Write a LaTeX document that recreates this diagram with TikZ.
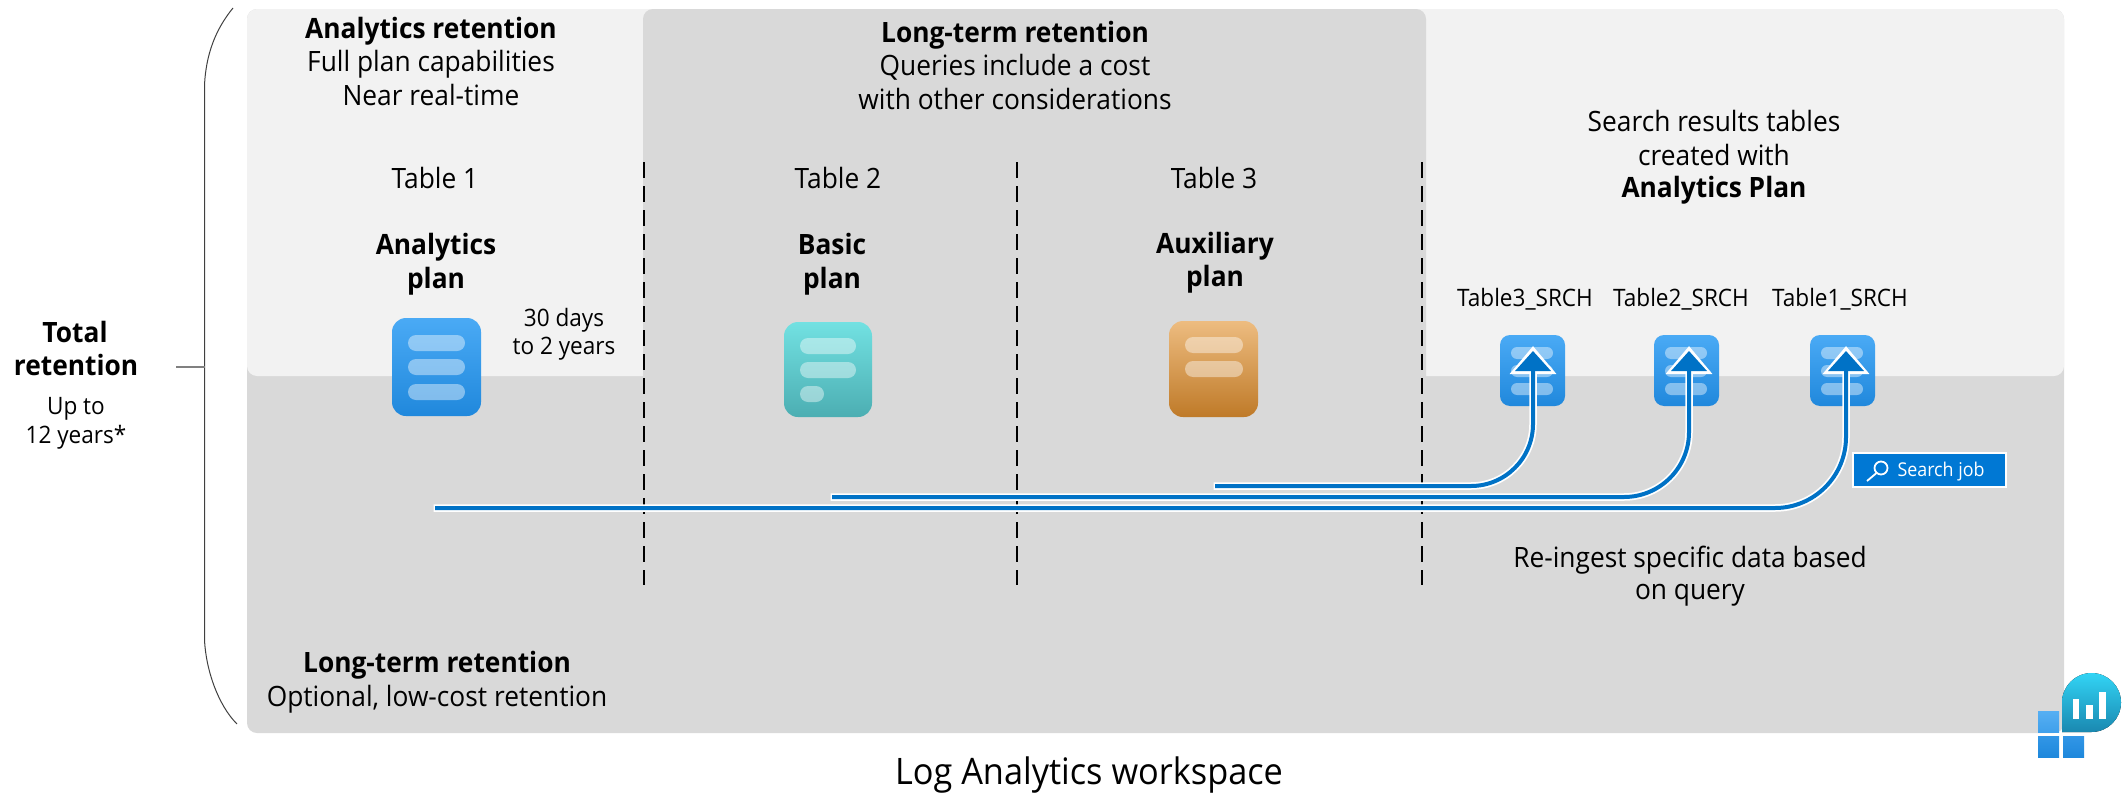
\documentclass[tikz,border=0pt]{standalone}
\usepackage{fontspec}
\setmainfont[FakeStretch=0.94]{Open Sans}
\usetikzlibrary{arrows.meta,calc}
\definecolor{lightp}{HTML}{F2F2F2}
\definecolor{darkp}{HTML}{D9D9D9}
\definecolor{flow}{HTML}{0072C6}
\definecolor{job}{HTML}{0078D4}
\tikzset{
  x=1pt,y=-1pt,
  lbl/.style={anchor=base,inner sep=0pt,outer sep=0pt,text=black,font=\fontsize{28}{32}\selectfont},
  lblb/.style={lbl,font=\fontsize{28}{32}\selectfont\bfseries},
  small/.style={lbl,font=\fontsize{24}{28}\selectfont},
  icon/.style={draw=none,inner sep=0pt,rounded corners=#1},
  bluei/.style={top color={rgb,255:red,74;green,170;blue,245},bottom color={rgb,255:red,32;green,136;blue,220}},
  teali/.style={top color={rgb,255:red,114;green,225;blue,226},bottom color={rgb,255:red,76;green,174;blue,178}},
  orangei/.style={top color={rgb,255:red,237;green,188;blue,128},bottom color={rgb,255:red,191;green,122;blue,40}},
  barf/.style={fill=white,fill opacity=.42,draw=none},
  divider/.style={black,line width=2pt,dash pattern=on 16pt off 8pt},
  flowwhite/.style={white,line width=7.5pt,rounded corners=#1,shorten <=-1.5pt,-{Triangle[length=28pt,width=45pt]}},
  flowblue/.style={flow,line width=4pt,rounded corners=#1,-{Triangle[length=20pt,width=35pt]}},
}
\begin{document}
\begin{tikzpicture}
\useasboundingbox (0,0) rectangle (2122,811);
% panels
\fill[darkp,rounded corners=10pt] (247,9) rectangle (2064,733);
\fill[lightp,rounded corners=10pt] (247,9) rectangle (2064,376);
\fill[darkp,rounded corners=10pt] (643,9) rectangle (1426,400);
% brace
\coordinate (bt) at (233,8);
\coordinate (bb) at (237,724);
\coordinate (bm) at (204.5,367);
\coordinate (tk) at (176,367);
\draw[black!75,line width=1pt] (bt) .. controls (215,30) and (206,55) .. (204.5,85) -- (204.5,640) .. controls (206,670) and (218,705) .. (bb);
\draw[black!50,line width=1.5pt] (tk) -- (bm);
% dividers
\coordinate (d1a) at (644,162); \coordinate (d1b) at (644,585);
\coordinate (d2a) at (1017,162); \coordinate (d2b) at (1017,585);
\coordinate (d3a) at (1422,162); \coordinate (d3b) at (1422,585);
\draw[divider] (d1a) -- (d1b);
\draw[divider] (d2a) -- (d2b);
\draw[divider] (d3a) -- (d3b);
% plan icons
\node[icon=14pt,bluei,minimum width=89pt,minimum height=98pt] (ia) at (436.5,367) {};
\foreach \y in {343,367,392} \fill[barf,rounded corners=8pt] (408,\y-8) rectangle (465,\y+8);
\node[icon=14pt,teali,minimum width=88pt,minimum height=95pt] (ib) at (828,369.5) {};
\foreach \y in {346,370} \fill[barf,rounded corners=8pt] (800,\y-8) rectangle (856,\y+8);
\fill[barf,rounded corners=8pt] (800,386) rectangle (824,402);
\node[icon=14pt,orangei,minimum width=89pt,minimum height=96pt] (ic) at (1213.5,369) {};
\foreach \y in {345,369} \fill[barf,rounded corners=8pt] (1185,\y-8) rectangle (1243,\y+8);
% search result icons
\node[icon=10pt,bluei,minimum width=65pt,minimum height=71pt] (s3) at (1532.5,370.5) {};
\node[icon=10pt,bluei,minimum width=65pt,minimum height=71pt] (s2) at (1686.5,370.5) {};
\node[icon=10pt,bluei,minimum width=65pt,minimum height=71pt] (s1) at (1842.5,370.5) {};
\foreach \c in {1532,1686,1842}{
 \foreach \y in {353,371,389} \fill[barf,rounded corners=6pt] (\c-21,\y-6) rectangle (\c+21,\y+6);
}
% flows
\coordinate (f3) at (1215,486); \coordinate (e3) at (1533,351);
\coordinate (f2) at (832,497);  \coordinate (e2) at (1689,351);
\coordinate (f1) at (435,508);  \coordinate (e1) at (1846,351);
\coordinate (w3) at (1533,346); \coordinate (w2) at (1689,346); \coordinate (w1) at (1846,346);
\draw[flowwhite=62pt] (f3) -- (f3 -| w3) -- (w3);
\draw[flowblue=62pt] (f3) -- (f3 -| e3) -- (e3);
\draw[flowwhite=65pt] (f2) -- (f2 -| w2) -- (w2);
\draw[flowblue=65pt] (f2) -- (f2 -| e2) -- (e2);
\draw[flowwhite=71pt] (f1) -- (f1 -| w1) -- (w1);
\draw[flowblue=71pt] (f1) -- (f1 -| e1) -- (e1);
% search job
\node[fill=job,draw=white,line width=1.5pt,minimum width=153pt,minimum height=34pt,inner sep=0pt] (sj) at (1929.5,470) {};
\draw[white,line width=1.8pt] (1881,468) circle (6.5pt);
\draw[white,line width=1.8pt] (1876.5,473) -- (1867,481);
\node[anchor=base,inner sep=0pt,text=white,font=\fontsize{19}{22}\selectfont] (sjt) at (1941,476) {Search job};
% logo
\fill[top color={rgb,255:red,86;green,175;blue,243},bottom color={rgb,255:red,64;green,160;blue,235}] (2038,711) rectangle (2059,732);
\fill[top color={rgb,255:red,50;green,150;blue,230},bottom color={rgb,255:red,30;green,136;blue,220},rounded corners=0pt] (2038,736) rectangle (2059,757);
\fill[top color={rgb,255:red,50;green,150;blue,230},bottom color={rgb,255:red,30;green,136;blue,220}] (2063,736) rectangle (2084,757);
\fill[top color={rgb,255:red,50;green,212;blue,245},bottom color={rgb,255:red,26;green,136;blue,176}] (2062,732) -- (2062,702.5) arc[start angle=180,delta angle=-270,radius=29.5pt] -- cycle;
\fill[white] (2073,699) rectangle (2079,719);
\fill[white] (2086,705) rectangle (2093,719);
\fill[white] (2099,692) rectangle (2106,719);
% texts
\begin{scope}[shift={(0,1.3)}]
\node[lblb] (t1) at (431,37) {Analytics retention};
\node[lbl] (t2) at (431,70) {Full plan capabilities};
\node[lbl] (t3) at (431,104) {Near real-time};
\node[lbl] (t4) at (435,187) {Table 1};
\node[lblb] (t5) at (436,253) {Analytics};
\node[lblb] (t6) at (436,287) {plan};
\node[small] (t7) at (564,325) {30 days};
\node[small] (t8) at (564,353) {to 2 years};
\node[lblb] (t9) at (75,341) {Total};
\node[lblb] (t10) at (76,374) {retention};
\node[small] (t11) at (76,413) {Up to};
\node[small] (t12) at (76,442) {12 years*};
\node[lblb] (t13) at (1015,41) {Long-term retention};
\node[lbl] (t14) at (1015,74) {Queries include a cost};
\node[lbl] (t15) at (1015,108) {with other considerations};
\node[lbl] (t16) at (838,187) {Table 2};
\node[lblb] (t17) at (832,253) {Basic};
\node[lblb] (t18) at (832,287) {plan};
\node[lbl] (t19) at (1214,187) {Table 3};
\node[lblb] (t20) at (1215,252) {Auxiliary};
\node[lblb] (t21) at (1215,285) {plan};
\node[lbl] (t22) at (1714,130) {Search results tables};
\node[lbl] (t23) at (1714,164) {created with};
\node[lblb] (t24) at (1714,196) {Analytics Plan};
\node[small] (t25) at (1525,305) {Table3\_SRCH};
\node[small] (t26) at (1681,305) {Table2\_SRCH};
\node[small] (t27) at (1840,305) {Table1\_SRCH};
\node[lbl] (t28) at (1690,566) {Re-ingest specific data based};
\node[lbl] (t29) at (1690,598) {on query};
\node[lblb] (t30) at (437,671) {Long-term retention};
\node[lbl] (t31) at (437,705) {Optional, low-cost retention};
\node[lbl,font=\fontsize{36.5}{42}\selectfont] (t32) at (1089,783) {Log Analytics workspace};
\end{scope}
\end{tikzpicture}
\end{document}
